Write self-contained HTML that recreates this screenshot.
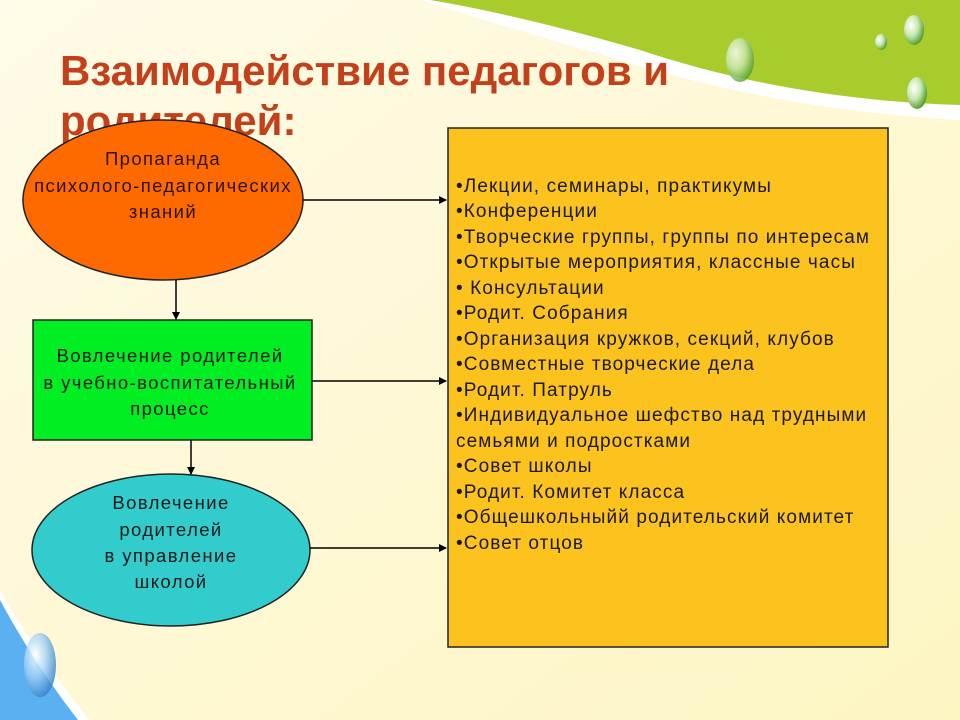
<!DOCTYPE html>
<html><head><meta charset="utf-8"><style>
html,body{margin:0;padding:0;width:960px;height:720px;overflow:hidden}
svg{display:block}
text{font-family:"Liberation Sans",sans-serif}
</style></head><body>
<svg width="960" height="720" viewBox="0 0 960 720" xmlns="http://www.w3.org/2000/svg">
<defs>
<linearGradient id="bg" x1="0" y1="0" x2="1" y2="1">
<stop offset="0" stop-color="#fffbe8"/><stop offset="1" stop-color="#fdf5c2"/>
</linearGradient>
<radialGradient id="drop" cx="0.35" cy="0.35" r="0.7">
<stop offset="0" stop-color="#ffffff"/><stop offset="0.5" stop-color="#c8e8b0"/><stop offset="1" stop-color="#4d9a2a"/>
</radialGradient>
<radialGradient id="bdrop" cx="0.35" cy="0.35" r="0.7">
<stop offset="0" stop-color="#ffffff"/><stop offset="0.5" stop-color="#9fd0f5"/><stop offset="1" stop-color="#2f7fc8"/>
</radialGradient>
<marker id="ar" markerWidth="8" markerHeight="8" refX="7" refY="4" orient="auto" markerUnits="userSpaceOnUse">
<path d="M0,0 L8,4 L0,8 z" fill="#000"/></marker>
</defs>
<rect width="960" height="720" fill="url(#bg)"/>
<path d="M420,0 L960,0 L960,120 Q780,110 620,60 Q500,25 420,0 Z" fill="#ffffff"/>
<path d="M430,0 L960,0 L960,105 Q790,100 640,50 Q520,15 430,0 Z" fill="#a8cc2c"/>
<path d="M0,590 Q40,660 90,720 L0,720 Z" fill="#ffffff"/>
<path d="M0,600 Q35,665 78,720 L0,720 Z" fill="#5ab0f0"/>
<ellipse cx="40" cy="665" rx="16" ry="32" fill="url(#bdrop)" opacity="0.8"/>
<ellipse cx="740" cy="60" rx="14" ry="22" fill="url(#drop)" opacity="0.8"/>
<ellipse cx="914" cy="30" rx="10" ry="15" fill="url(#drop)"/>
<ellipse cx="881" cy="42" rx="6" ry="8" fill="url(#drop)"/>
<ellipse cx="917" cy="93" rx="10" ry="16" fill="url(#drop)"/>
<text x="60" y="85" font-size="42" font-weight="bold" fill="#c4401a">Взаимодействие педагогов и</text>
<text x="60" y="135" font-size="42" font-weight="bold" fill="#c4401a">родителей:</text>
<ellipse cx="163" cy="200" rx="140" ry="80" fill="#ff6a00" stroke="#222" stroke-width="1.5"/>
<g font-size="18.5" fill="#2a1200" text-anchor="middle" letter-spacing="1.4">
<text x="163" y="165">Пропаганда</text>
<text x="163" y="192">психолого-педагогических</text>
<text x="163" y="218">знаний</text>
</g>
<rect x="33" y="320" width="279" height="120" fill="#00ee22" stroke="#222" stroke-width="1.5"/>
<g font-size="18.5" fill="#1a1a1a" text-anchor="middle" letter-spacing="1.4">
<text x="170" y="362">Вовлечение родителей</text>
<text x="170" y="389">в учебно-воспитательный</text>
<text x="170" y="415">процесс</text>
</g>
<ellipse cx="171" cy="550" rx="139" ry="76" fill="#33cccc" stroke="#222" stroke-width="1.5"/>
<g font-size="18.5" fill="#1a1a1a" text-anchor="middle" letter-spacing="1.4">
<text x="171" y="509">Вовлечение</text>
<text x="171" y="536">родителей</text>
<text x="171" y="562">в управление</text>
<text x="171" y="588">школой</text>
</g>
<rect x="448" y="128" width="440" height="519" fill="#fcc21e" stroke="#222" stroke-width="1.5"/>
<g stroke="#000" stroke-width="1.5" fill="none">
<line x1="303" y1="200" x2="446" y2="200" marker-end="url(#ar)"/>
<line x1="312" y1="381" x2="446" y2="381" marker-end="url(#ar)"/>
<line x1="310" y1="548" x2="446" y2="548" marker-end="url(#ar)"/>
<line x1="176" y1="280" x2="176" y2="319" marker-end="url(#ar)"/>
<line x1="191" y1="440" x2="191" y2="474" marker-end="url(#ar)"/>
</g>
<text font-size="19" fill="#1a1a1a" letter-spacing="1.1">
<tspan x="456" y="192">•Лекции, семинары, практикумы</tspan>
<tspan x="456" y="217">•Конференции</tspan>
<tspan x="456" y="243">•Творческие группы, группы по интересам</tspan>
<tspan x="456" y="268">•Открытые мероприятия, классные часы</tspan>
<tspan x="456" y="294">• Консультации</tspan>
<tspan x="456" y="319">•Родит. Собрания</tspan>
<tspan x="456" y="345">•Организация кружков, секций, клубов</tspan>
<tspan x="456" y="370">•Совместные творческие дела</tspan>
<tspan x="456" y="396">•Родит. Патруль</tspan>
<tspan x="456" y="421">•Индивидуальное шефство над трудными</tspan>
<tspan x="456" y="447">семьями и подростками</tspan>
<tspan x="456" y="472">•Совет школы</tspan>
<tspan x="456" y="498">•Родит. Комитет класса</tspan>
<tspan x="456" y="523">•Общешкольныйй родительский комитет</tspan>
<tspan x="456" y="549">•Совет отцов</tspan>
</text>
</svg>
</body></html>
